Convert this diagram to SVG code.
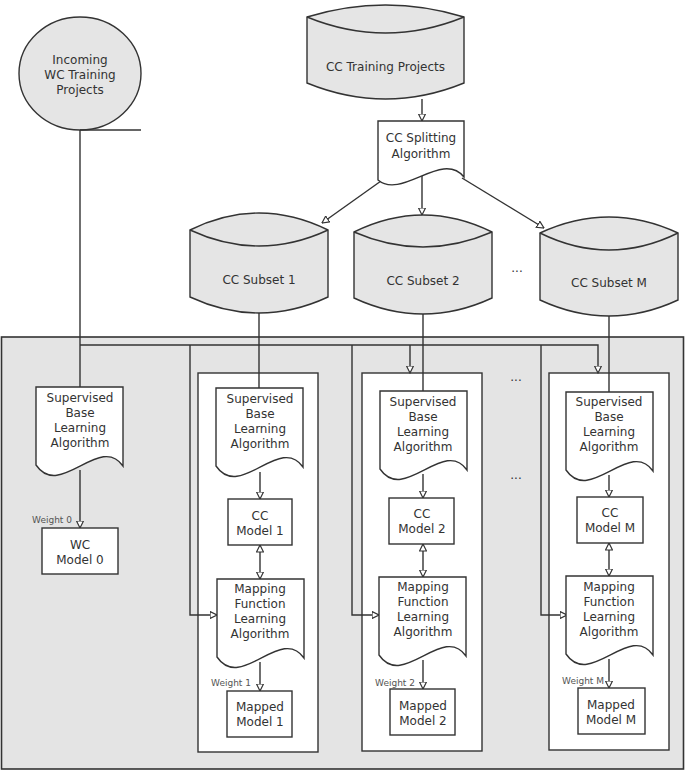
<svg xmlns="http://www.w3.org/2000/svg" width="685" height="771" viewBox="0 0 685 771">
<defs>
<style>
text{font-family:"DejaVu Sans","Liberation Sans",sans-serif;font-size:12px;fill:#333;text-anchor:middle}
.w{font-size:9px;fill:#555;text-anchor:end}
.sh{fill:#e5e5e5;stroke:#333;stroke-width:1.4}
.bx{fill:#fff;stroke:#333;stroke-width:1.4}
.ln{fill:none;stroke:#333;stroke-width:1.4}
.ar{marker-end:url(#ah)}
.da{marker-end:url(#ah);marker-start:url(#ah)}
</style>
<marker id="ah" viewBox="0 0 8 8" refX="7.5" refY="4" markerWidth="8" markerHeight="8" markerUnits="userSpaceOnUse" orient="auto-start-reverse">
<path d="M0.5,0.5 L7.5,4 L0.5,7.5 Z" fill="#fff" stroke="#333" stroke-width="1.2"/>
</marker>
<path id="doc" d="M0,0 H87 V79 C64,46 24,113 0,78 Z"/>
</defs>

<rect id="container" x="1.5" y="337" width="682" height="432" fill="#e4e4e4" stroke="#333" stroke-width="1.6"/>
<rect id="box1" class="bx" x="198" y="373" width="120" height="379"/>
<rect id="box2" class="bx" x="362" y="373" width="120" height="378"/>
<rect id="boxM" class="bx" x="549" y="373" width="120" height="377"/>

<g id="connectors">
<path class="ln" d="M80,130 V387"/>
<path class="ln" d="M80,345 H598 V373" marker-end="url(#ah)"/>
<path class="ln" d="M410,345 V373" marker-end="url(#ah)"/>
<path class="ln" d="M190,345 V615 H217" marker-end="url(#ah)"/>
<path class="ln" d="M352,345 V615 H379" marker-end="url(#ah)"/>
<path class="ln" d="M541,345 V615 H567" marker-end="url(#ah)"/>
<path class="ln" d="M259,313 V388"/>
<path class="ln" d="M423,314 V391"/>
<path class="ln" d="M609,316 V392"/>
<path class="ln" d="M422,99 V121" marker-end="url(#ah)"/>
<path class="ln" d="M381,181 L322,223" marker-end="url(#ah)"/>
<path class="ln" d="M422,175 V215" marker-end="url(#ah)"/>
<path class="ln" d="M462,178 L544,228" marker-end="url(#ah)"/>
<path class="ln" d="M80,470 V528" marker-end="url(#ah)"/>
<path class="ln" d="M260,472 V499" marker-end="url(#ah)"/>
<path class="ln" d="M260,545 V579" marker-start="url(#ah)" marker-end="url(#ah)"/>
<path class="ln" d="M260,662 V691" marker-end="url(#ah)"/>
<path class="ln" d="M423,474 V498" marker-end="url(#ah)"/>
<path class="ln" d="M423,544 V577" marker-start="url(#ah)" marker-end="url(#ah)"/>
<path class="ln" d="M423,660 V689" marker-end="url(#ah)"/>
<path class="ln" d="M609,475 V497" marker-end="url(#ah)"/>
<path class="ln" d="M609,543 V576" marker-start="url(#ah)" marker-end="url(#ah)"/>
<path class="ln" d="M609,659 V688" marker-end="url(#ah)"/>
</g>

<g id="wc_projects">
<ellipse class="sh" cx="80" cy="73.5" rx="61" ry="56.5"/>
<path class="ln" d="M80,130 H141"/>
<text x="80" y="64">Incoming</text>
<text x="80" y="79">WC Training</text>
<text x="80" y="94">Projects</text>
</g>

<g id="cc_training">
<path class="sh" d="M307,17 Q385.5,-7 464,17 V83 Q385.5,115 307,83 Z"/>
<path class="ln" d="M307,17 Q385.5,49 464,17"/>
<text x="385.5" y="71">CC Training Projects</text>
</g>

<g id="cc_split">
<path class="bx" d="M378,121 H464 V177 C442,150 402,200 378,180 Z"/>
<text x="421" y="142">CC Splitting</text>
<text x="421" y="158">Algorithm</text>
</g>

<g id="subset1">
<path class="sh" d="M190,230 Q259,196 328,230 V297 Q259,329 190,297 Z"/>
<path class="ln" d="M190,230 Q259,262 328,230"/>
<text x="259" y="284">CC Subset 1</text>
</g>
<g id="subset2">
<path class="sh" d="M354,232 Q423,198 492,232 V298 Q423,330 354,298 Z"/>
<path class="ln" d="M354,232 Q423,262 492,232"/>
<text x="423" y="285">CC Subset 2</text>
</g>
<g id="subsetM">
<path class="sh" d="M540,233 Q609,201 678,233 V300 Q609,332 540,300 Z"/>
<path class="ln" d="M540,233 Q609,267 678,233"/>
<text x="609" y="287">CC Subset M</text>
</g>

<g id="dots">
<text x="517" y="272">...</text>
<text x="516" y="381">...</text>
<text x="516" y="479">...</text>
</g>

<g id="wc_sbla">
<use href="#doc" class="bx" x="36" y="387"/>
<text x="80" y="402">Supervised</text>
<text x="80" y="417">Base</text>
<text x="80" y="432">Learning</text>
<text x="80" y="447">Algorithm</text>
</g>
<g id="wc_model0">
<rect class="bx" x="42" y="528" width="76" height="46"/>
<text x="80" y="549">WC</text>
<text x="80" y="564">Model 0</text>
<text class="w" x="72" y="523">Weight 0</text>
</g>

<g id="sbla1">
<use href="#doc" class="bx" x="216" y="388"/>
<text x="260" y="403">Supervised</text>
<text x="260" y="418">Base</text>
<text x="260" y="433">Learning</text>
<text x="260" y="448">Algorithm</text>
</g>
<g id="cc_model1">
<rect class="bx" x="228" y="499" width="64" height="46"/>
<text x="260" y="520">CC</text>
<text x="260" y="535">Model 1</text>
</g>
<g id="mapping1">
<use href="#doc" class="bx" x="217" y="579"/>
<text x="260" y="593">Mapping</text>
<text x="260" y="608">Function</text>
<text x="260" y="623">Learning</text>
<text x="260" y="638">Algorithm</text>
</g>
<g id="mapped1">
<rect class="bx" x="227" y="691" width="65" height="46"/>
<text x="260" y="711">Mapped</text>
<text x="260" y="726">Model 1</text>
<text class="w" x="251" y="686">Weight 1</text>
</g>

<g id="sbla2">
<use href="#doc" class="bx" x="380" y="391"/>
<text x="423" y="406">Supervised</text>
<text x="423" y="421">Base</text>
<text x="423" y="436">Learning</text>
<text x="423" y="451">Algorithm</text>
</g>
<g id="cc_model2">
<rect class="bx" x="389" y="498" width="65" height="46"/>
<text x="422" y="518">CC</text>
<text x="422" y="533">Model 2</text>
</g>
<g id="mapping2">
<use href="#doc" class="bx" x="379" y="577"/>
<text x="423" y="591">Mapping</text>
<text x="423" y="606">Function</text>
<text x="423" y="621">Learning</text>
<text x="423" y="636">Algorithm</text>
</g>
<g id="mapped2">
<rect class="bx" x="390" y="689" width="65" height="46"/>
<text x="423" y="710">Mapped</text>
<text x="423" y="725">Model 2</text>
<text class="w" x="415" y="686">Weight 2</text>
</g>

<g id="sblaM">
<use href="#doc" class="bx" x="566" y="392"/>
<text x="609" y="406">Supervised</text>
<text x="609" y="421">Base</text>
<text x="609" y="436">Learning</text>
<text x="609" y="451">Algorithm</text>
</g>
<g id="cc_modelM">
<rect class="bx" x="577" y="497" width="66" height="46"/>
<text x="610" y="517">CC</text>
<text x="610" y="532">Model M</text>
</g>
<g id="mappingM">
<use href="#doc" class="bx" x="566" y="576"/>
<text x="609" y="591">Mapping</text>
<text x="609" y="606">Function</text>
<text x="609" y="621">Learning</text>
<text x="609" y="636">Algorithm</text>
</g>
<g id="mappedM">
<rect class="bx" x="578" y="688" width="67" height="46"/>
<text x="611" y="709">Mapped</text>
<text x="611" y="724">Model M</text>
<text class="w" x="604" y="684">Weight M</text>
</g>
</svg>
